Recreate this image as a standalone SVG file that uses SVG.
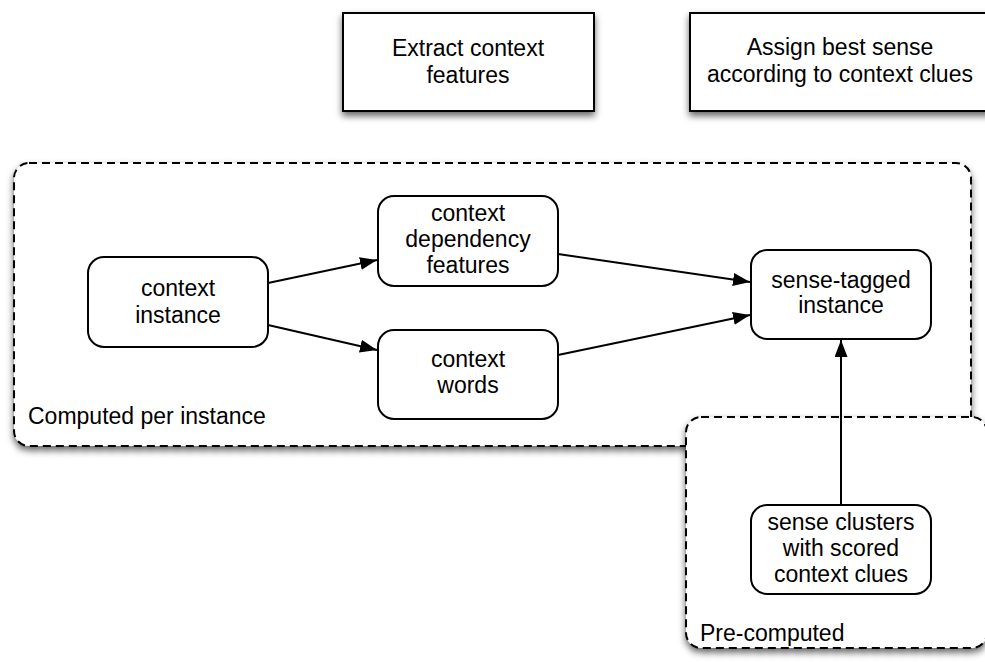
<svg xmlns="http://www.w3.org/2000/svg" width="985" height="662" viewBox="0 0 985 662">
  <defs>
    <filter id="shadow" x="-10%" y="-10%" width="120%" height="130%">
      <feDropShadow dx="0" dy="4" stdDeviation="3.5" flood-color="#000" flood-opacity="0.6"/>
    </filter>
    <marker id="arrow" markerUnits="userSpaceOnUse" markerWidth="18" markerHeight="14" refX="17" refY="6.5" orient="auto">
      <path d="M0,0 L17,6.5 L0,13 z" fill="#000"/>
    </marker>
    <style>
      text { font-family: "Liberation Sans", Arial, Helvetica, sans-serif; font-size: 23px; fill: #000; }
      .c { text-anchor: middle; }
      .box { fill: #fff; stroke: #000; stroke-width: 2; }
      .group { fill: #fff; stroke: #000; stroke-width: 2; stroke-dasharray: 8 5; }
      .node { fill: #fff; stroke: #000; stroke-width: 2; }
      .edge { fill: none; stroke: #000; stroke-width: 2; marker-end: url(#arrow); }
    </style>
  </defs>

  <rect width="985" height="662" fill="#fff"/>

  <!-- stage headers -->
  <g id="extract-features">
    <rect class="box" x="343" y="13" width="251" height="98" filter="url(#shadow)"/>
    <text class="c" x="468" y="56">Extract context</text>
    <text class="c" x="468" y="83">features</text>
  </g>
  <g id="assign-sense">
    <rect class="box" x="690" y="13" width="302" height="98" filter="url(#shadow)"/>
    <text class="c" x="840" y="55">Assign best sense</text>
    <text class="c" x="840" y="82">according to context clues</text>
  </g>

  <!-- per-instance group -->
  <g id="computed-per-instance">
    <rect class="group" x="14" y="163" width="957" height="283" rx="15" filter="url(#shadow)"/>
    <text x="28" y="424">Computed per instance</text>
  </g>

  <!-- offline group, drawn over the per-instance group -->
  <g id="pre-computed">
    <rect class="group" x="686" y="417" width="301" height="231" rx="15" filter="url(#shadow)"/>
    <text x="700" y="641">Pre-computed</text>
  </g>

  <!-- connectors -->
  <g id="connectors">
    <line class="edge" x1="268" y1="283" x2="377" y2="260"/>
    <line class="edge" x1="268" y1="325" x2="377" y2="350"/>
    <line class="edge" x1="558" y1="254" x2="750" y2="282"/>
    <line class="edge" x1="558" y1="355" x2="750" y2="315"/>
    <line class="edge" x1="841" y1="505" x2="841" y2="340"/>
  </g>

  <g id="context-instance">
    <rect class="node" x="88" y="257" width="180" height="90" rx="16"/>
    <text class="c" x="178" y="296">context</text>
    <text class="c" x="178" y="323">instance</text>
  </g>
  <g id="context-dependency-features">
    <rect class="node" x="378" y="196" width="180" height="90" rx="16"/>
    <text class="c" x="468" y="221">context</text>
    <text class="c" x="468" y="247">dependency</text>
    <text class="c" x="468" y="273">features</text>
  </g>
  <g id="context-words">
    <rect class="node" x="378" y="330" width="180" height="89" rx="16"/>
    <text class="c" x="468" y="367">context</text>
    <text class="c" x="468" y="393">words</text>
  </g>
  <g id="sense-tagged-instance">
    <rect class="node" x="751" y="250" width="180" height="89" rx="16"/>
    <text class="c" x="841" y="288">sense-tagged</text>
    <text class="c" x="841" y="313">instance</text>
  </g>
  <g id="sense-clusters">
    <rect class="node" x="751" y="505" width="180" height="89" rx="16"/>
    <text class="c" x="841" y="530">sense clusters</text>
    <text class="c" x="841" y="556">with scored</text>
    <text class="c" x="841" y="582">context clues</text>
  </g>
</svg>
